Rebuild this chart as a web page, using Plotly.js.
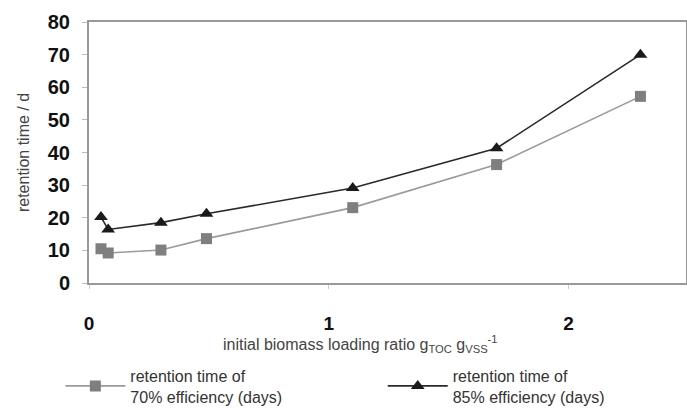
<!DOCTYPE html>
<html>
<head>
<meta charset="utf-8">
<script src="https://cdn.plot.ly/plotly-3.0.1.min.js"></script>
<style>html,body{margin:0;padding:0;background:#fff;}#chart{width:687px;height:408px;}</style>
</head>
<body>
<div id="chart"></div>
<script>
// Data
var loadingRatio = [0.05, 0.08, 0.30, 0.49, 1.10, 1.70, 2.30];
var retention70 = [10.5, 9.2, 10.1, 13.6, 23.1, 36.3, 57.2];
var retention85 = [20.2, 16.4, 18.5, 21.2, 29.1, 41.3, 70.0];
var seriesNames = ['retention time of<br>70% efficiency (days)', 'retention time of<br>85% efficiency (days)'];
var xTicks = [0, 1, 2];
var yTicks = [0, 10, 20, 30, 40, 50, 60, 70, 80];

var traces = [
  {
    x: loadingRatio, y: retention70, name: seriesNames[0],
    mode: 'lines+markers', type: 'scatter', legend: 'legend',
    line: {color: '#9a9a9a', width: 1.6},
    marker: {symbol: 'square', size: 11, color: '#7f7f7f'}
  },
  {
    x: loadingRatio, y: retention85, name: seriesNames[1],
    mode: 'lines+markers', type: 'scatter', legend: 'legend2',
    line: {color: '#2a2a2a', width: 1.6},
    marker: {symbol: 'triangle-up', size: 12, color: '#1a1a1a'}
  }
];

var legendFont = {size: 16, color: '#333'};
var layout = {
  width: 687, height: 408,
  margin: {l: 89, r: 1, t: 22, b: 125, autoexpand: false},
  paper_bgcolor: '#fff', plot_bgcolor: '#fff',
  font: {family: 'Liberation Sans, Arial, sans-serif', color: '#222'},
  showlegend: true,
  legend: {
    orientation: 'v', x: -0.048, xanchor: 'left', y: -0.395, yanchor: 'middle',
    font: legendFont, bgcolor: 'rgba(0,0,0,0)', itemwidth: 60
  },
  legend2: {
    orientation: 'v', x: 0.492, xanchor: 'left', y: -0.395, yanchor: 'middle',
    font: legendFont, bgcolor: 'rgba(0,0,0,0)', itemwidth: 60
  },
  xaxis: {
    range: [0, 2.49], tickvals: xTicks, ticktext: xTicks.map(String),
    showgrid: false, zeroline: false,
    showline: true, linecolor: '#999', linewidth: 2, mirror: true,
    ticks: 'outside', ticklen: 4, tickcolor: '#ccc',
    ticklabelstandoff: 18,
    tickfont: {size: 19, color: '#111', weight: 'bold'}
  },
  yaxis: {
    range: [0, 80], tickvals: yTicks,
    showgrid: false, zeroline: false,
    showline: true, linecolor: '#999', linewidth: 2, mirror: true,
    ticks: 'outside', ticklen: 5, tickcolor: '#bbb',
    ticklabelstandoff: 8,
    tickfont: {size: 20, color: '#111', weight: 'bold'},
    title: {text: 'retention time / d', font: {size: 16, color: '#444'}, standoff: 14}
  },
  annotations: [
    {
      xref: 'paper', yref: 'paper', x: 0.455, y: -0.235, xanchor: 'center', yanchor: 'middle',
      showarrow: false,
      text: 'initial biomass loading ratio g<sub>TOC</sub> g<sub>VSS</sub><sup>-1</sup>',
      font: {size: 16, color: '#444'}
    }
  ]
};

Plotly.newPlot('chart', traces, layout, {displayModeBar: false, staticPlot: true});
</script>
</body>
</html>
